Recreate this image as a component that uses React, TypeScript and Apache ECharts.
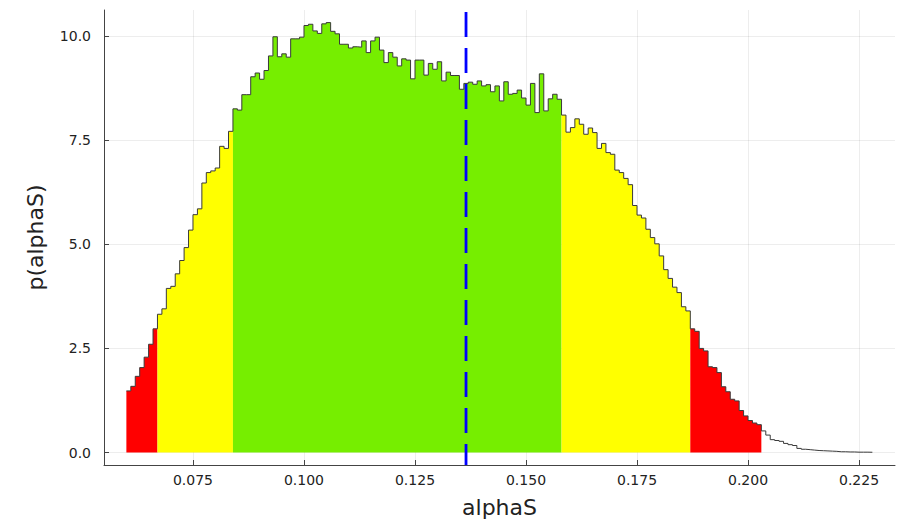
import React, { useEffect, useRef } from "react";
import * as echarts from "echarts";

// Histogram bins: start 0.060, width 0.001
const binStart = 0.06;
const binWidth = 0.001;
const heights: number[] = [
  1.48, 1.59, 1.83, 2.04, 2.29, 2.6, 2.97, 3.32, 3.45, 3.94,
  3.99, 4.29, 4.61, 4.92, 5.34, 5.71, 5.85, 6.47, 6.72, 6.76,
  6.83, 7.35, 7.3, 7.71, 8.25, 8.22, 8.59, 8.59, 9.02, 9.11,
  8.96, 9.17, 9.52, 9.98, 9.5, 9.57, 9.49, 9.93, 9.93, 9.97,
  10.25, 10.28, 10.12, 10.06, 10.29, 10.32, 10.11, 10.05, 9.8, 9.8,
  9.71, 9.74, 9.73, 9.88, 9.6, 9.88, 9.97, 9.66, 9.36, 9.6,
  9.49, 9.28, 9.45, 9.42, 8.97, 9.42, 9.42, 9.06, 9.34, 9.2,
  9.38, 8.92, 9.13, 9.05, 9.05, 8.72, 8.86, 8.89, 8.84, 8.92,
  8.8, 8.83, 8.66, 8.8, 8.44, 8.9, 8.6, 8.62, 8.7, 8.51,
  8.34, 8.86, 8.16, 9.09, 8.2, 8.49, 8.6, 8.48, 8.1, 7.69,
  7.8, 8.01, 7.88, 7.64, 7.79, 7.68, 7.3, 7.42, 7.2, 7.16,
  6.78, 6.72, 6.58, 6.43, 5.93, 5.7, 5.63, 5.36, 5.16, 5.01,
  4.72, 4.39, 4.18, 3.97, 3.84, 3.5, 3.4, 2.97, 2.91, 2.5,
  2.44, 2.06, 2.04, 1.92, 1.58, 1.46, 1.28, 1.24, 1.01, 0.88,
  0.77, 0.71, 0.67, 0.52, 0.42, 0.31, 0.29, 0.27, 0.22, 0.19,
  0.17, 0.1, 0.08, 0.07, 0.06, 0.05, 0.045, 0.04, 0.035, 0.03,
  0.02, 0.02, 0.015, 0.015, 0.01, 0.01, 0.01, 0.008,
];

// Credible-interval regions (edges) and their fill colours
const regionEdges = [0.06, 0.067, 0.084, 0.158, 0.187, 0.203];
const regionColors = ["#ff0000", "#ffff00", "#76ee00", "#ffff00", "#ff0000"];

const meanValue = 0.13649;

const xTicks = [0.075, 0.1, 0.125, 0.15, 0.175, 0.2, 0.225];
const yTicks = [0, 2.5, 5, 7.5, 10];

const X_MIN = 0.05496;
const X_MAX = 0.2331;
const Y_MIN = -0.298;
const Y_MAX = 10.622;

export default function App() {
  const ref = useRef<HTMLDivElement>(null);

  useEffect(() => {
    if (!ref.current) return;
    const chart = echarts.init(ref.current, undefined, { renderer: "svg" });

    const edge = (i: number) => +(binStart + i * binWidth).toFixed(6);

    // one stepped area per region
    const regionSeries = regionColors.map((c, r) => {
      const pts: number[][] = [];
      let last = 0;
      heights.forEach((h, i) => {
        const mid = edge(i) + binWidth / 2;
        if (mid >= regionEdges[r] && mid < regionEdges[r + 1]) {
          pts.push([edge(i), h]);
          last = h;
        }
      });
      pts.push([regionEdges[r + 1], last]);
      return {
        type: "line",
        step: "end",
        z: 2,
        symbol: "none",
        data: pts,
        lineStyle: { width: 0, opacity: 0 },
        areaStyle: { color: c, opacity: 1, origin: 0 },
        silent: true,
      };
    });

    const stepData: number[][] = heights.map((h, i) => [edge(i), h]);
    stepData.push([edge(heights.length), heights[heights.length - 1]]);

    const font = "DejaVu Sans";

    chart.setOption({
      animation: false,
      backgroundColor: "#ffffff",
      grid: {
        left: 104,
        right: 14,
        top: 10,
        bottom: 54,
        outerBoundsMode: "none",
      },
      xAxis: {
        type: "value",
        min: X_MIN,
        max: X_MAX,
        name: "alphaS",
        nameLocation: "middle",
        nameGap: 31,
        nameTextStyle: { fontSize: 22, fontFamily: font, color: "#222" },
        axisLine: { show: true, onZero: false, lineStyle: { color: "#444", width: 1 } },
        axisTick: {
          show: true,
          inside: true,
          length: 5,
          customValues: xTicks,
          lineStyle: { color: "#444", width: 1 },
        },
        axisLabel: {
          customValues: xTicks,
          formatter: (v: number) => v.toFixed(3),
          fontSize: 14,
          fontFamily: font,
          color: "#222",
          margin: 8,
        },
        splitLine: { show: true, lineStyle: { color: "rgba(0,0,0,0.07)", width: 1 } },
      },
      yAxis: {
        type: "value",
        min: Y_MIN,
        max: Y_MAX,
        name: "p(alphaS)",
        nameLocation: "middle",
        nameGap: 58,
        nameTextStyle: { fontSize: 22, fontFamily: font, color: "#222" },
        axisLine: { show: true, onZero: false, lineStyle: { color: "#444", width: 1 } },
        axisTick: {
          show: true,
          inside: true,
          length: 5,
          customValues: yTicks,
          lineStyle: { color: "#444", width: 1 },
        },
        axisLabel: {
          customValues: yTicks,
          formatter: (v: number) => v.toFixed(1),
          fontSize: 14,
          fontFamily: font,
          color: "#222",
          margin: 13,
        },
        splitLine: { show: true, lineStyle: { color: "rgba(0,0,0,0.07)", width: 1 } },
      },
      series: [
        ...regionSeries,
        {
          type: "line",
          step: "end",
          z: 3,
          symbol: "none",
          data: stepData,
          lineStyle: { color: "#3a3a3a", width: 1 },
          silent: true,
        },
        {
          type: "line",
          z: 4,
          symbol: "none",
          data: [
            [meanValue, 10.574],
            [meanValue, Y_MIN],
          ],
          lineStyle: { color: "#0000ff", width: 2.8, type: [25, 11] },
          silent: true,
        },
      ],
    });

    return () => chart.dispose();
  }, []);

  return (
    <div
      ref={ref}
      style={{ position: "fixed", left: 0, top: 0, width: 909, height: 519, background: "#fff" }}
    />
  );
}
